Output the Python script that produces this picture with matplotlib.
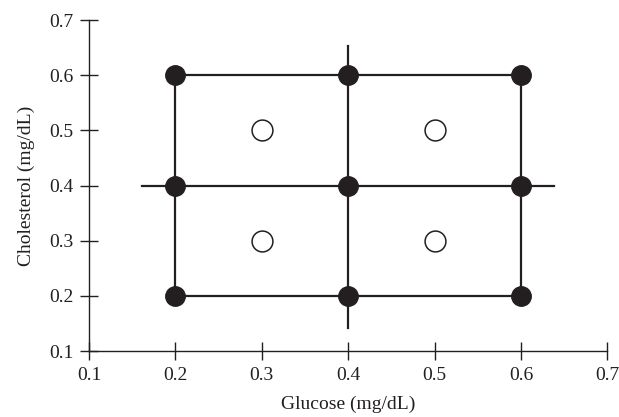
import numpy as np
import matplotlib.pyplot as plt

plt.rcParams['font.family'] = ['Liberation Serif', 'DejaVu Serif']

# grid design points (filled) and centre points (open)
grid_x = [0.2, 0.4, 0.6]
grid_y = [0.2, 0.4, 0.6]
center_x = [0.3, 0.5, 0.3, 0.5]
center_y = [0.5, 0.5, 0.3, 0.3]

# extended cross lines through the middle
mid_h = [0.161, 0.638]   # x-range of the y=0.4 line
mid_v = [0.142, 0.653]   # y-range of the x=0.4 line

ticks = [0.1, 0.2, 0.3, 0.4, 0.5, 0.6, 0.7]
ink = '#231f20'

fig = plt.figure(figsize=(6.19, 4.17), dpi=100)
ax = fig.add_axes([0.144, 0.158, 0.837, 0.794])

for i, gy in enumerate(grid_y):
    if i == 1:
        ax.plot(mid_h, [gy, gy], color=ink, lw=1.6, zorder=2)
    else:
        ax.plot([grid_x[0], grid_x[-1]], [gy, gy], color=ink, lw=1.6, zorder=2)
for i, gx in enumerate(grid_x):
    if i == 1:
        ax.plot([gx, gx], mid_v, color=ink, lw=1.6, zorder=2)
    else:
        ax.plot([gx, gx], [grid_y[0], grid_y[-1]], color=ink, lw=1.6, zorder=2)

gx, gy = np.meshgrid(grid_x, grid_y)
ax.plot(gx.ravel(), gy.ravel(), 'o', color=ink, ms=14, ls='none', zorder=3)
ax.plot(center_x, center_y, 'o', mfc='white', mec=ink, mew=1.1, ms=15, ls='none', zorder=3)

ax.set_xlim(0.1, 0.7)
ax.set_ylim(0.1, 0.7)
ax.set_xticks(ticks)
ax.set_yticks(ticks)
ax.set_xticklabels([f'{t:.1f}' for t in ticks])
ax.set_yticklabels([f'{t:.1f}' for t in ticks])
ax.spines['top'].set_visible(False)
ax.spines['right'].set_visible(False)
for s in ['left', 'bottom']:
    ax.spines[s].set_color(ink)
    ax.spines[s].set_linewidth(1.0)
ax.tick_params(direction='inout', length=13, width=1.0, color=ink,
               labelsize=14, labelcolor=ink, pad=5)
ax.set_xlabel('Glucose (mg/dL)', fontsize=14, color=ink, labelpad=8)
ax.set_ylabel('Cholesterol (mg/dL)', fontsize=14, color=ink, labelpad=10)

plt.savefig('out.png', dpi=100)
